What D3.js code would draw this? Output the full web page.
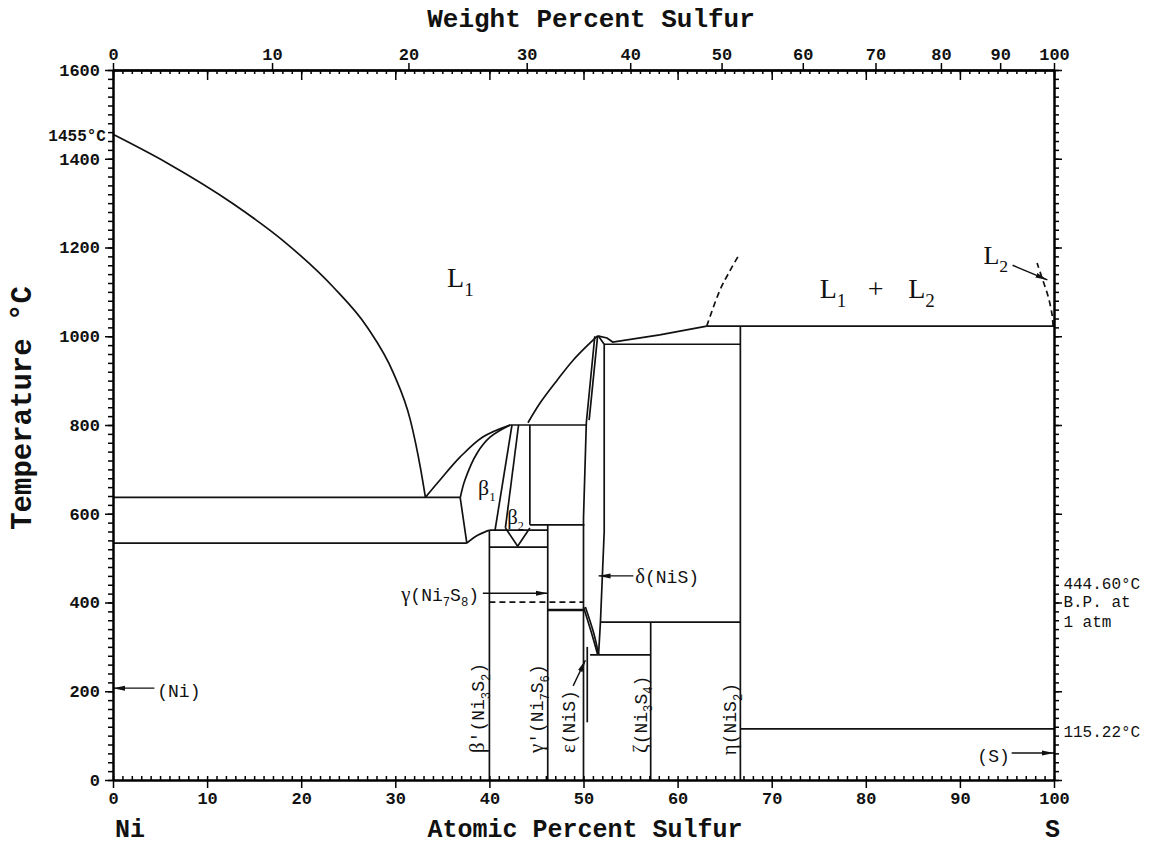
<!DOCTYPE html>
<html>
<head>
<meta charset="utf-8">
<script src="https://cdn.jsdelivr.net/npm/d3@7"></script>
<style>
  body { margin: 0; background: #fff; }
  svg text { font-family: "Liberation Mono", "Courier New", monospace; fill: #111; }
  svg text.serif, svg tspan.serif { font-family: "Liberation Serif", "Times New Roman", serif; }
</style>
</head>
<body>
<svg id="chart" width="1153" height="846"></svg>
<script>
// Ni-S phase diagram
// every point is [atomic % S, temperature °C]

var atTicks = d3.range(0, 101, 10);
var wtTicks = d3.range(0, 101, 10);
var tempTicks = d3.range(0, 1601, 200);

var liquidusNi = [[0,1455],[5.7,1391],[12.8,1298],[18.1,1215],[23.4,1111],[27.0,1021],[29.8,917],[31.6,811],[32.7,700],[33.2,637]];
var liquidusBeta = [[33.2,637],[34.75,676],[36.9,728],[39.3,773],[42.2,800]];
var solidusBeta1 = [[36.9,636],[37.4,676],[38.7,737],[40.1,773],[42.2,800]];
var beta1Low = [[36.9,636],[37.6,534]];
var beta1Bottom = [[37.6,534],[38.8,552],[40.0,563]];
var beta1Right = [[42.4,800],[40.6,563]];
var beta2Left = [[43.1,800],[41.7,568]];
var beta2Vee = [[41.7,568],[43.0,527],[44.3,568]];
var liquidusNiS = [[44.1,805],[45.4,850],[47.2,901],[48.9,946],[50.7,985],[51.5,1001]];
var liquidusNiS2 = [[51.5,1001],[52.5,996],[53.1,987],[58.1,1003],[63.1,1023]];
var deltaLeft = [[50,0],[50,590],[50.3,805],[51.2,1000]];
var deltaLeft2 = [[51.5,1001],[50.6,811]];
var deltaRight = [[51.6,1000],[52.2,982],[52.2,560],[51.8,356],[51.6,282]];
var epsLeft = [[50,390],[50.8,335],[51.5,283]];
var epsRight = [[50.2,390],[51.1,330],[51.6,283]];
var epsLine = [[50.4,300],[50.4,130]];
var gapL1 = [[63.1,1023],[64.5,1104],[65.6,1149],[66.4,1179]];
var gapL2 = [[99.9,1023],[99.8,1048],[99.4,1088],[98.8,1127],[98.2,1165]];

// isotherms: [°C, from at%, to at%]
var isotherms = [[637,0,36.9],[534,0,37.6],[800,42.2,50.3],[575,44.3,50.1],[563,40,46.2],[525,40,46.2],
  [383,46.2,50],[282,50.7,57.14],[356,51.8,66.67],[982,52.2,66.67],[1023,63.1,100],[115.22,66.67,100]];
var dashedIsotherms = [[401,40,50]];

// verticals: [at%, from °C, to °C]
var verticals = [[40,0,563],[46.2,0,575],[44.3,575,800],[57.14,0,356],[66.67,0,1023]];

// arrows: [[at%, °C] tail, [at%, °C] head]
var arrows = [
  [[4.4,207],[0,207]],
  [[95.5,61],[100,61]],
  [[39.3,421],[46.2,421]],
  [[55.3,460],[51.6,460]],
  [[48.9,212],[50.2,270]],
  [[95.6,1160],[99.3,1127]]
];

var MS = 32.06, MNi = 58.69;
function wtToAt(w) { var s = w / MS, n = (100 - w) / MNi; return 100 * s / (s + n); }

var svg = d3.select("#chart"),
    margin = {top: 70, right: 99, bottom: 66, left: 113},
    width = +svg.attr("width") - margin.left - margin.right,
    height = +svg.attr("height") - margin.top - margin.bottom,
    g = svg.append("g").attr("transform", "translate(" + margin.left + "," + margin.top + ")");

var x = d3.scaleLinear().domain([0, 100]).range([0, width]);
var y = d3.scaleLinear().domain([0, 1600]).range([height, 0]);
// piecewise scale so the top axis can show weight percent
var xWt = d3.scaleLinear().domain(wtTicks).range(wtTicks.map(function(w) { return x(wtToAt(w)); }));

svg.append("defs").append("marker")
    .attr("id", "head").attr("viewBox", "0 0 12 6")
    .attr("refX", 12).attr("refY", 3)
    .attr("markerWidth", 12).attr("markerHeight", 6)
    .attr("markerUnits", "userSpaceOnUse").attr("orient", "auto")
  .append("path").attr("d", "M0,0.5L12,3L0,5.5Z").attr("fill", "#111");

var straight = d3.line().x(function(d) { return x(d[0]); }).y(function(d) { return y(d[1]); });
var smooth = d3.line().curve(d3.curveCatmullRom.alpha(0.5)).x(function(d) { return x(d[0]); }).y(function(d) { return y(d[1]); });
var mono = d3.line().curve(d3.curveMonotoneX).x(function(d) { return x(d[0]); }).y(function(d) { return y(d[1]); });

function draw(pts, gen, dashed) {
  g.append("path").datum(pts)
      .attr("fill", "none").attr("stroke", "#111").attr("stroke-width", 1.7)
      .attr("stroke-dasharray", dashed ? "6,4" : null)
      .attr("d", gen);
}

draw(liquidusNi, mono);
[liquidusBeta, solidusBeta1, beta1Bottom, liquidusNiS, epsLeft, epsRight].forEach(function(p) { draw(p, smooth); });
[beta1Low, beta1Right, beta2Left, beta2Vee, liquidusNiS2, deltaLeft, deltaLeft2, deltaRight, epsLine].forEach(function(p) { draw(p, straight); });
draw(gapL1, smooth, true);
draw(gapL2, smooth, true);

g.selectAll(".iso").data(isotherms).join("line").attr("class", "iso")
    .attr("x1", function(d) { return x(d[1]); }).attr("x2", function(d) { return x(d[2]); })
    .attr("y1", function(d) { return y(d[0]); }).attr("y2", function(d) { return y(d[0]); })
    .attr("stroke", "#111").attr("stroke-width", function(d) { return d[0] === 383 ? 2.6 : 1.7; });

g.selectAll(".dash").data(dashedIsotherms).join("line").attr("class", "dash")
    .attr("x1", function(d) { return x(d[1]); }).attr("x2", function(d) { return x(d[2]); })
    .attr("y1", function(d) { return y(d[0]); }).attr("y2", function(d) { return y(d[0]); })
    .attr("stroke", "#111").attr("stroke-width", 1.7).attr("stroke-dasharray", "6,4");

g.selectAll(".vert").data(verticals).join("line").attr("class", "vert")
    .attr("x1", function(d) { return x(d[0]); }).attr("x2", function(d) { return x(d[0]); })
    .attr("y1", function(d) { return y(d[1]); }).attr("y2", function(d) { return y(d[2]); })
    .attr("stroke", "#111").attr("stroke-width", 1.7);

g.selectAll(".arrow").data(arrows).join("line").attr("class", "arrow")
    .attr("x1", function(d) { return x(d[0][0]); }).attr("y1", function(d) { return y(d[0][1]); })
    .attr("x2", function(d) { return x(d[1][0]); }).attr("y2", function(d) { return y(d[1][1]); })
    .attr("stroke", "#111").attr("stroke-width", 1.4)
    .attr("marker-end", "url(#head)");

// text with "_" marking a one-character subscript; Greek letters set in serif
function label(str, at, t, size, opts) {
  opts = opts || {};
  var px = x(at), py = y(t);
  var txt = g.append("text")
      .attr("transform", "translate(" + px + "," + py + ")" + (opts.rotate ? " rotate(-90)" : ""))
      .attr("text-anchor", opts.anchor || "start")
      .style("font-size", size + "px");
  if (opts.serif) txt.attr("class", "serif");
  if (opts.bold) txt.style("font-weight", "bold");
  var parts = [], buf = "";
  function flush() { if (buf) parts.push([buf, false]); buf = ""; }
  for (var i = 0; i < str.length; i++) {
    if (str[i] === "_") { flush(); parts.push([str[i + 1], true]); i++; }
    else if (/[α-ω]/.test(str[i])) { flush(); parts.push([str[i], false, true]); }
    else buf += str[i];
  }
  flush();
  var shift = 0, drop = size * 0.32;
  parts.forEach(function(p) {
    var dy = p[1] ? drop - shift : -shift;
    shift = p[1] ? drop : 0;
    txt.append("tspan").attr("dy", dy)
        .attr("class", p[2] ? "serif" : null)
        .style("font-size", p[1] ? (size * 0.68) + "px" : (p[2] ? (size * 1.15) + "px" : null))
        .text(p[0]);
  });
}

label("L_1", 35.5, 1111, 28, {serif: true});
label("L_1", 75.1, 1086, 28, {serif: true});
label("+", 80.2, 1086, 28, {serif: true});
label("L_2", 84.5, 1086, 28, {serif: true});
label("L_2", 92.5, 1163, 26, {serif: true});
label("β_1", 38.8, 642, 19, {serif: true});
label("β_2", 41.9, 576, 18, {serif: true});
label("γ(Ni_7S_8)", 38.9, 404, 18, {anchor: "end"});
label("δ(NiS)", 55.5, 444, 18);
label("(Ni)", 4.7, 187, 18);
label("(S)", 95.3, 40, 18, {anchor: "end"});
label("β'(Ni_3S_2)", 39.4, 61, 18, {rotate: true});
label("γ'(Ni_7S_6)", 45.7, 61, 18, {rotate: true});
label("ε(NiS)", 49.1, 61, 18, {rotate: true});
label("ζ(Ni_3S_4)", 56.7, 61, 18, {rotate: true});
label("η(NiS_2)", 66.2, 56, 18, {rotate: true});

// right-hand notes
label("444.60°C", 101, 430, 16);
label("B.P. at", 101, 389, 16);
label("1 atm", 101, 344, 16);
label("115.22°C", 101, 97, 16);
label("1455°C", -0.75, 1441, 16, {anchor: "end", bold: true});

function tidy(sel, fs) {
  sel.attr("font-family", null).attr("font-size", null);
  sel.select(".domain").attr("stroke-width", 2);
  sel.selectAll(".tick line").attr("stroke-width", 1.5);
  sel.selectAll("text").style("font-size", fs + "px").style("font-weight", "bold");
}

var fmt = d3.format("d");

// bottom: atomic percent
g.append("g").attr("transform", "translate(0," + height + ")")
    .call(d3.axisBottom(x).tickValues(d3.range(0, 101, 1)).tickSize(-4).tickSizeOuter(0).tickFormat(""))
    .call(tidy, 17);
g.append("g").attr("transform", "translate(0," + height + ")")
    .call(d3.axisBottom(x).tickValues(atTicks).tickSize(8).tickSizeOuter(0).tickPadding(4).tickFormat(fmt))
    .call(tidy, 17);

// top: atomic percent ticks inward, weight percent labels outward
g.append("g")
    .call(d3.axisTop(x).tickValues(d3.range(0, 101, 1)).tickSize(-4).tickSizeOuter(0).tickFormat(""))
    .call(tidy, 17);
g.append("g")
    .call(d3.axisTop(x).tickValues(atTicks).tickSize(-10).tickSizeOuter(0).tickFormat(""))
    .call(tidy, 17);
g.append("g")
    .call(d3.axisTop(xWt).tickValues(wtTicks).tickSize(7).tickSizeOuter(0).tickPadding(3).tickFormat(fmt))
    .call(tidy, 17);

// left and right: temperature
g.append("g")
    .call(d3.axisLeft(y).tickValues(d3.range(0, 1601, 20)).tickSize(5).tickSizeOuter(0).tickFormat(""))
    .call(tidy, 17);
g.append("g")
    .call(d3.axisLeft(y).tickValues(tempTicks).tickSize(8).tickSizeOuter(0).tickPadding(5).tickFormat(fmt))
    .call(tidy, 17);
g.append("g").attr("transform", "translate(" + width + ",0)")
    .call(d3.axisRight(y).tickValues(d3.range(0, 1601, 20)).tickSize(5).tickSizeOuter(0).tickFormat(""))
    .call(tidy, 17);
g.append("g").attr("transform", "translate(" + width + ",0)")
    .call(d3.axisRight(y).tickValues(tempTicks).tickSize(8).tickSizeOuter(0).tickFormat(""))
    .call(tidy, 17);

// titles
svg.append("text").attr("x", 591).attr("y", 27).attr("text-anchor", "middle")
    .style("font-size", "26px").style("font-weight", "bold").text("Weight Percent Sulfur");
svg.append("text").attr("x", 585).attr("y", 837).attr("text-anchor", "middle")
    .style("font-size", "25px").style("font-weight", "bold").text("Atomic Percent Sulfur");
svg.append("text").attr("transform", "translate(31,408) rotate(-90)").attr("text-anchor", "middle")
    .style("font-size", "29px").style("font-weight", "bold").text("Temperature °C");
svg.append("text").attr("x", 115).attr("y", 837).style("font-size", "25px").style("font-weight", "bold").text("Ni");
svg.append("text").attr("x", 1045).attr("y", 837).style("font-size", "25px").style("font-weight", "bold").text("S");
</script>
</body>
</html>
